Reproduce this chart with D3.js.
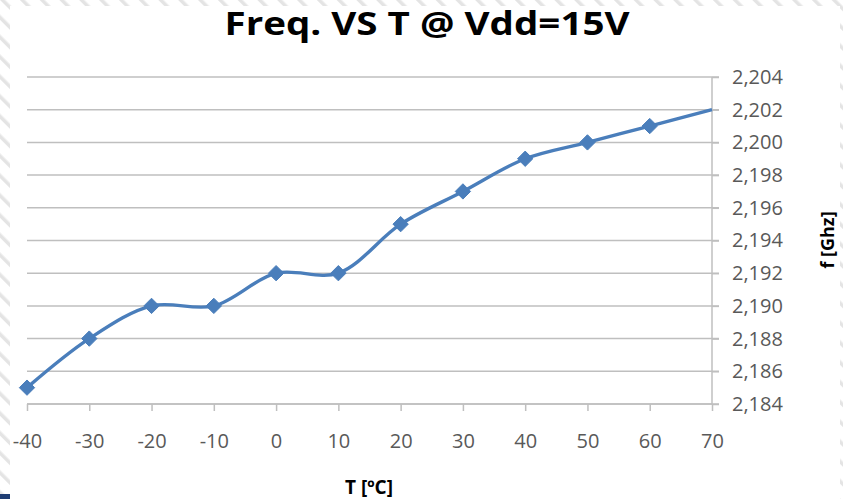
<!DOCTYPE html>
<html>
<head>
<meta charset="utf-8">
<script src="https://cdn.jsdelivr.net/npm/d3@7"></script>
<style>
  html, body { margin: 0; padding: 0; background: #fff; }
  svg { display: block; }
</style>
</head>
<body>
<script>
// ---- data ----
const temps = [-40, -30, -20, -10, 0, 10, 20, 30, 40, 50, 60, 70];
const freqs = [2.185, 2.188, 2.190, 2.190, 2.192, 2.192, 2.195, 2.197, 2.199, 2.200, 2.201, 2.202];
const xTickValues = [-40, -30, -20, -10, 0, 10, 20, 30, 40, 50, 60, 70];
const xTickLabels = ["-40", "-30", "-20", "-10", "0", "10", "20", "30", "40", "50", "60", "70"];
const yTickValues = [2.184, 2.186, 2.188, 2.190, 2.192, 2.194, 2.196, 2.198, 2.200, 2.202, 2.204];
const yTickLabels = ["2,184", "2,186", "2,188", "2,190", "2,192", "2,194", "2,196", "2,198", "2,200", "2,202", "2,204"];
const titleText = "Freq. VS T @ Vdd=15V";
const xTitle = "T [ºC]";
const yTitle = "f [Ghz]";

const W = 843, H = 499;
const svg = d3.select("body").append("svg").attr("width", W).attr("height", H);

// background hatch
const defs = svg.append("defs");
const pat = defs.append("pattern").attr("id", "hatch").attr("patternUnits", "userSpaceOnUse")
  .attr("width", 14).attr("height", 14).attr("patternTransform", "rotate(-45)");
pat.append("rect").attr("width", 14).attr("height", 14).attr("fill", "#fff");
pat.append("rect").attr("x", 0).attr("width", 3.5).attr("height", 14).attr("fill", "#e4e4e4");
svg.append("rect").attr("width", W).attr("height", H).attr("fill", "url(#hatch)");
svg.append("rect").attr("x", 10).attr("y", 6).attr("width", 830).attr("height", H).attr("fill", "#fff");
svg.append("rect").attr("x", 0).attr("y", 494).attr("width", 10).attr("height", 5).attr("fill", "#1f3d73");

const x = d3.scaleLinear().domain([-40, 70]).range([27, 712]);
const y = d3.scaleLinear().domain([2.184, 2.204]).range([404, 77]);

const font = "'Open Sans', 'DejaVu Sans', sans-serif";

// gridlines
svg.append("g").selectAll("line").data(yTickValues).join("line")
  .attr("x1", x(-40)).attr("x2", x(70) + 7)
  .attr("y1", d => y(d)).attr("y2", d => y(d))
  .attr("stroke", "#bfbfbf").attr("stroke-width", 1.5);

// right axis (y)
const yAxis = d3.axisRight(y).tickValues(yTickValues)
  .tickFormat((d, i) => yTickLabels[i]).tickSize(7).tickPadding(13);
const gy = svg.append("g").attr("transform", `translate(${x(70)},0)`).call(yAxis);
gy.select(".domain").attr("stroke", "#bfbfbf").attr("stroke-width", 1.5).attr("d", `M0,${y(2.204)}V${y(2.184)}`);
gy.selectAll(".tick line").attr("stroke", "#bfbfbf").attr("stroke-width", 1.5);
gy.selectAll(".tick text").attr("fill", "#595959").style("font-family", font).style("font-size", "20px");

// bottom axis (x)
const xAxis = d3.axisBottom(x).tickValues(xTickValues)
  .tickFormat((d, i) => xTickLabels[i]).tickSize(7).tickPadding(23);
const gx = svg.append("g").attr("transform", `translate(0,${y(2.184)})`).call(xAxis);
gx.select(".domain").attr("stroke", "#bfbfbf").attr("stroke-width", 1.5).attr("d", `M${x(-40)},0H${x(70)}`);
gx.selectAll(".tick line").attr("stroke", "#bfbfbf").attr("stroke-width", 1.5);
gx.selectAll(".tick text").attr("fill", "#595959").style("font-family", font).style("font-size", "20px");

// line
const line = d3.line().x((d, i) => x(temps[i])).y(d => y(d)).curve(d3.curveCatmullRom.alpha(0.5));
svg.append("path").datum(freqs).attr("d", line)
  .attr("fill", "none").attr("stroke", "#4a7ebb").attr("stroke-width", 3.4).attr("stroke-linejoin", "round");

// markers (diamonds), last point sits on the plot border and is clipped in the original
const sym = d3.symbol().type(d3.symbolDiamond2).size(150);
svg.append("g").selectAll("path").data(freqs.slice(0, -1)).join("path")
  .attr("d", sym)
  .attr("transform", (d, i) => `translate(${x(temps[i])},${y(d)})`)
  .attr("fill", "#4a7ebb").attr("stroke", "#4a7ebb").attr("stroke-width", 1);

// title
svg.append("text").attr("x", 427).attr("y", 35).attr("text-anchor", "middle")
  .style("font-family", font).style("font-weight", "bold").style("font-size", "32px")
  .attr("textLength", 405).attr("lengthAdjust", "spacingAndGlyphs")
  .attr("fill", "#000").text(titleText);

// axis titles
svg.append("text").attr("x", 369).attr("y", 494).attr("text-anchor", "middle")
  .style("font-family", font).style("font-weight", "bold").style("font-size", "19px")
  .attr("fill", "#000").text(xTitle);
svg.append("text").attr("transform", "translate(834,240) rotate(-90)").attr("text-anchor", "middle")
  .style("font-family", font).style("font-weight", "bold").style("font-size", "18px")
  .attr("fill", "#000").text(yTitle);
</script>
</body>
</html>
